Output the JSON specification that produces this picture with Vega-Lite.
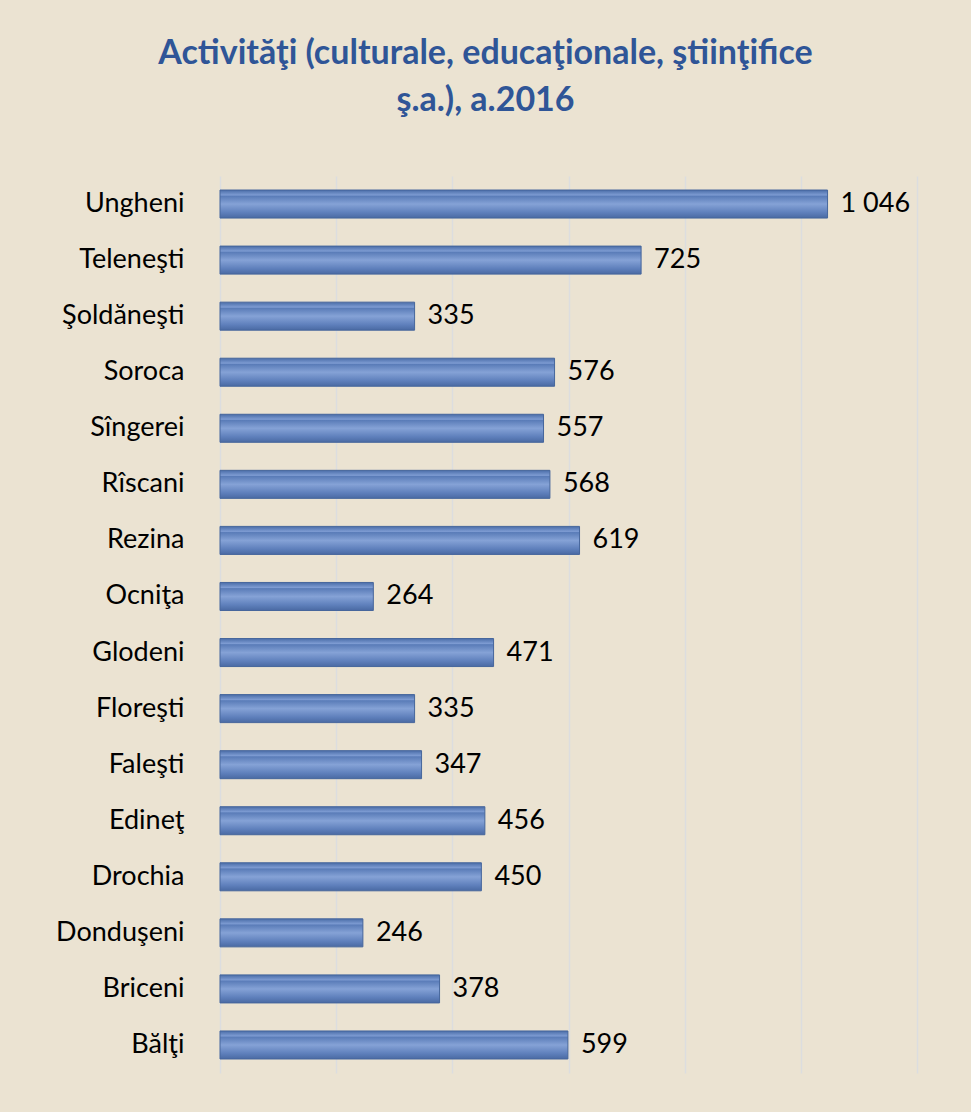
{
  "$schema": "https://vega.github.io/schema/vega-lite/v6.json",
  "autosize": {"type": "none"},
  "width": 697,
  "height": 897,
  "padding": {"left": 220, "top": 176, "right": 54, "bottom": 39},
  "background": "#EBE3D2",
  "title": {
    "text": ["Activităţi (culturale, educaţionale, ştiinţifice", "ş.a.), a.2016"],
    "font": "Lato",
    "fontSize": 34,
    "fontWeight": "bold",
    "color": "#2F5597",
    "anchor": "middle",
    "dx": -83,
    "offset": 58,
    "lineHeight": 47
  },
  "data": {
    "values": [
      {"raion": "Ungheni", "value": 1046, "label": "1 046"},
      {"raion": "Teleneşti", "value": 725, "label": "725"},
      {"raion": "Şoldăneşti", "value": 335, "label": "335"},
      {"raion": "Soroca", "value": 576, "label": "576"},
      {"raion": "Sîngerei", "value": 557, "label": "557"},
      {"raion": "Rîscani", "value": 568, "label": "568"},
      {"raion": "Rezina", "value": 619, "label": "619"},
      {"raion": "Ocniţa", "value": 264, "label": "264"},
      {"raion": "Glodeni", "value": 471, "label": "471"},
      {"raion": "Floreşti", "value": 335, "label": "335"},
      {"raion": "Faleşti", "value": 347, "label": "347"},
      {"raion": "Edineţ", "value": 456, "label": "456"},
      {"raion": "Drochia", "value": 450, "label": "450"},
      {"raion": "Donduşeni", "value": 246, "label": "246"},
      {"raion": "Briceni", "value": 378, "label": "378"},
      {"raion": "Bălţi", "value": 599, "label": "599"}
    ]
  },
  "encoding": {
    "y": {
      "field": "raion",
      "type": "nominal",
      "sort": null,
      "scale": {"paddingInner": 0.5, "paddingOuter": 0.25},
      "axis": {
        "title": null,
        "ticks": false,
        "domain": false,
        "labelFont": "Lato",
        "labelFontSize": 27,
        "labelColor": "#000000",
        "labelPadding": 36
      }
    },
    "x": {
      "field": "value",
      "type": "quantitative",
      "scale": {"domain": [0, 1200], "nice": false},
      "axis": {
        "title": null,
        "labels": false,
        "ticks": false,
        "domain": false,
        "values": [0, 200, 400, 600, 800, 1000, 1200],
        "grid": true,
        "gridColor": "#DCDDDF",
        "gridWidth": 1.5
      }
    }
  },
  "layer": [
    {
      "mark": {
        "type": "bar",
        "color": {
          "gradient": "linear",
          "x1": 0, "y1": 0, "x2": 0, "y2": 1,
          "stops": [
            {"offset": 0, "color": "#4A6DA8"},
            {"offset": 0.18, "color": "#7D9BD2"},
            {"offset": 0.22, "color": "#5A7CB8"},
            {"offset": 0.5, "color": "#85A2D6"},
            {"offset": 0.8, "color": "#5F80BC"},
            {"offset": 1, "color": "#4A6AA3"}
          ]
        },
        "stroke": "#46669C",
        "strokeWidth": 1
      }
    },
    {
      "mark": {
        "type": "text",
        "align": "left",
        "baseline": "middle",
        "dx": 13,
        "font": "Lato",
        "fontSize": 27,
        "color": "#000000"
      },
      "encoding": {"text": {"field": "label"}}
    }
  ],
  "config": {"view": {"stroke": null}}
}
